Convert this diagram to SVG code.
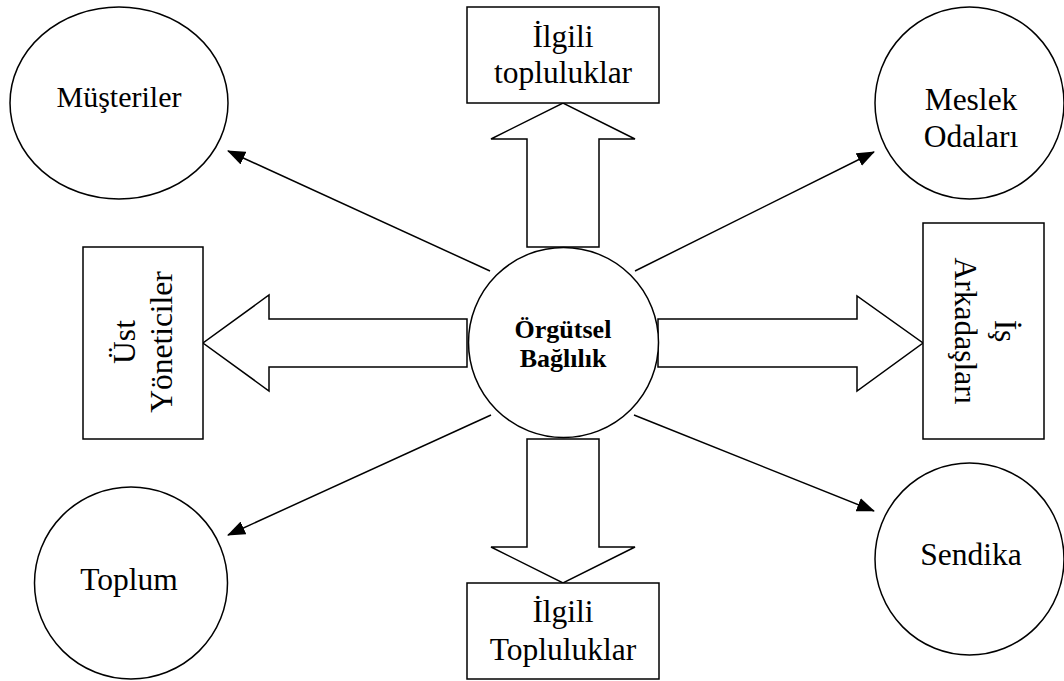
<svg xmlns="http://www.w3.org/2000/svg" width="1064" height="681" viewBox="0 0 1064 681">
<style>
.shape{fill:#fff;stroke:#000;stroke-width:1.5}
.lbl{font-family:"Liberation Serif","Times New Roman",serif;font-size:31.5px;fill:#000;text-anchor:middle}
.bold{font-family:"Liberation Serif","Times New Roman",serif;font-size:26px;font-weight:bold;fill:#000;text-anchor:middle}
.conn{stroke:#000;stroke-width:1.5;fill:none}
</style>
<defs>
<marker id="ah" markerUnits="userSpaceOnUse" markerWidth="18" markerHeight="14" refX="17" refY="7" orient="auto">
<path d="M0,0 L18,7 L0,14 z" fill="#000"/>
</marker>
</defs>
<rect width="1064" height="681" fill="#fff"/>
<g id="connectors">
<line class="conn" x1="490" y1="271" x2="228" y2="151" marker-end="url(#ah)"/>
<line class="conn" x1="635" y1="271" x2="874" y2="152" marker-end="url(#ah)"/>
<line class="conn" x1="491" y1="415" x2="228" y2="535" marker-end="url(#ah)"/>
<line class="conn" x1="634" y1="415" x2="874" y2="511" marker-end="url(#ah)"/>
<polygon class="shape" points="527,247 527,139 491,139 563,103 635,139 599,139 599,247"/>
<polygon class="shape" points="467,319 269,319 269,295 203,343 269,391 269,367 467,367"/>
<polygon class="shape" points="658,319 857,319 857,296 923,343 857,391 857,367 658,367"/>
<polygon class="shape" points="527,439 527,547 491,547 563,583 635,547 599,547 599,439"/>
</g>
<g id="center">
<circle class="shape" cx="563.5" cy="342.5" r="95"/>
<text class="bold" x="563" y="338">Örgütsel</text>
<text class="bold" x="563" y="367">Bağlılık</text>
</g>
<g id="musteriler">
<ellipse class="shape" cx="119" cy="103" rx="109" ry="96"/>
<text class="lbl" x="119" y="107" style="font-size:30px">Müşteriler</text>
</g>
<g id="meslek">
<ellipse class="shape" cx="969.5" cy="103" rx="94.5" ry="96"/>
<text class="lbl" x="971" y="110">Meslek</text>
<text class="lbl" x="971" y="147">Odaları</text>
</g>
<g id="ilgili-top">
<rect class="shape" x="467" y="7" width="192" height="96"/>
<text class="lbl" x="563" y="47">İlgili</text>
<text class="lbl" x="563" y="83">topluluklar</text>
</g>
<g id="ust">
<rect class="shape" x="83" y="247" width="120" height="192"/>
<text class="lbl" transform="translate(135,342) rotate(-90)">Üst</text>
<text class="lbl" transform="translate(172,342) rotate(-90)">Yöneticiler</text>
</g>
<g id="is">
<rect class="shape" x="923" y="223" width="121" height="216"/>
<text class="lbl" transform="translate(995,331) rotate(90)">İş</text>
<text class="lbl" transform="translate(955,331) rotate(90)">Arkadaşları</text>
</g>
<g id="toplum">
<ellipse class="shape" cx="131" cy="583" rx="96.5" ry="96"/>
<text class="lbl" x="129" y="590">Toplum</text>
</g>
<g id="sendika">
<ellipse class="shape" cx="969.5" cy="559" rx="94.5" ry="96"/>
<text class="lbl" x="971" y="565">Sendika</text>
</g>
<g id="ilgili-bottom">
<rect class="shape" x="467" y="583" width="192" height="96"/>
<text class="lbl" x="563" y="622">İlgili</text>
<text class="lbl" x="563" y="660">Topluluklar</text>
</g>
</svg>
